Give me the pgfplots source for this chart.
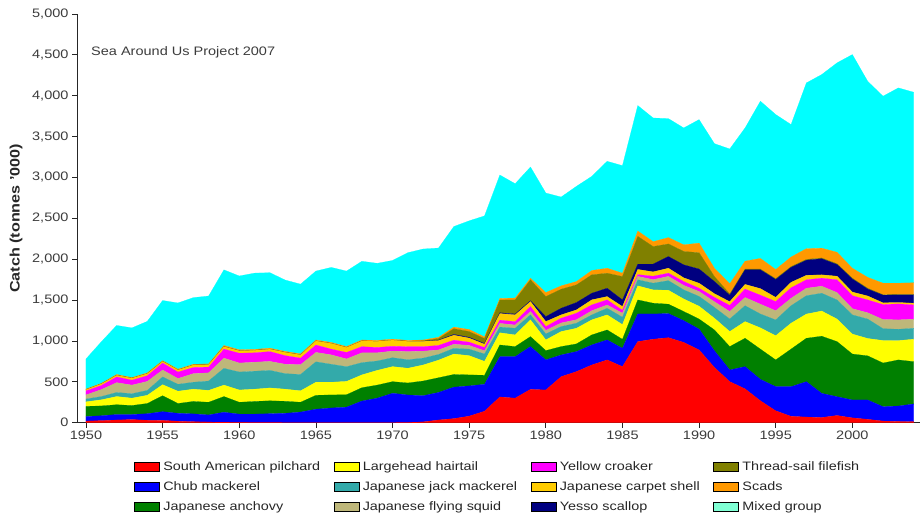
\documentclass[border=0pt]{standalone}
\usepackage{pgfplots}
\usepackage{pgfplotstable}
\pgfplotsset{compat=1.18}
\usepackage{fontspec}
\setmainfont{Liberation Sans}[FakeStretch=1.18]

\definecolor{cPil}{RGB}{255,0,0}
\definecolor{cChub}{RGB}{0,0,255}
\definecolor{cAnch}{RGB}{0,128,0}
\definecolor{cHair}{RGB}{255,255,0}
\definecolor{cJack}{RGB}{51,170,170}
\definecolor{cSquid}{RGB}{190,183,122}
\definecolor{cCroak}{RGB}{255,0,255}
\definecolor{cCarp}{RGB}{255,204,0}
\definecolor{cScal}{RGB}{0,0,128}
\definecolor{cFile}{RGB}{128,128,0}
\definecolor{cScad}{RGB}{255,153,0}
\definecolor{cMix}{RGB}{0,255,255}
\definecolor{cMixLeg}{RGB}{128,255,212}
\definecolor{txtgray}{RGB}{60,60,60}

% Catch by taxon, thousand tonnes
% R pilchard, B chub mackerel, G anchovy, Y hairtail, T jack mackerel,
% K flying squid, M yellow croaker, Gd carpet shell, N Yesso scallop,
% O thread-sail filefish, S scads, X mixed group
\pgfplotstableread{
year R B G Y T K M Gd N O S X
1950 20 55 125 55 35 50 50 15 0 0 7 368
1951 25 60 120 75 40 85 50 20 0 0 7 508
1952 33 67 120 100 50 120 70 20 0 0 10 600
1953 38 62 110 90 55 105 60 25 0 0 8 607
1954 30 80 125 100 60 110 70 25 0 0 10 630
1955 28 107 195 135 95 85 85 20 0 0 10 735
1956 18 97 120 150 85 70 80 25 0 0 10 810
1957 12 96 152 150 85 105 75 30 0 0 10 815
1958 8 87 155 145 115 100 70 30 0 0 10 830
1959 5 123 192 140 205 125 110 30 0 0 15 925
1960 3 102 145 150 220 110 120 30 0 0 12 903
1961 2 103 155 150 220 110 115 30 0 0 12 933
1962 2 108 158 157 215 110 120 30 0 0 12 923
1963 1 114 147 148 190 115 105 40 0 0 12 873
1964 1 129 120 140 200 120 80 40 0 0 12 853
1965 1 164 170 160 250 115 90 50 0 0 12 843
1966 1 179 160 155 220 115 70 70 0 0 12 918
1967 1 189 152 163 180 95 80 60 0 0 12 923
1968 1 264 163 157 150 120 75 70 0 0 12 963
1969 1 299 160 180 115 100 65 75 0 0 12 943
1970 1 359 142 184 109 81 59 75 0 0 12 963
1971 2 337 147 180 104 100 60 65 0 2 10 1073
1972 10 320 180 196 84 85 55 65 2 5 10 1113
1973 33 337 180 215 70 55 55 60 5 20 15 1092
1974 50 385 155 250 70 50 50 60 10 70 20 1230
1975 80 370 135 235 80 45 40 50 10 70 25 1330
1976 140 330 110 170 90 40 40 40 10 60 20 1480
1977 315 493 143 149 70 45 40 80 10 155 20 1510
1978 300 508 123 143 81 40 42 82 11 173 22 1399
1979 408 523 122 205 61 41 61 61 10 256 20 1360
1980 400 368 114 131 73 44 46 61 61 245 49 1218
1981 563 266 102 184 61 44 58 41 81 233 41 1087
1982 625 245 94 191 62 43 79 41 90 216 41 1165
1983 706 245 123 184 61 51 71 62 81 225 53 1152
1984 768 245 122 184 81 40 63 40 102 184 61 1308
1985 686 224 110 180 90 50 35 46 81 286 41 1316
1986 992 338 172 172 74 42 22 63 65 340 65 1535
1987 1021 309 132 163 82 43 42 53 95 215 60 1513
1988 1040 295 115 170 118 52 39 61 143 154 78 1455
1989 982 266 112 153 112 55 47 45 159 164 81 1430
1990 890 255 123 157 120 60 40 61 174 200 117 1511
1991 676 204 255 143 132 70 53 45 149 61 102 1524
1992 502 143 286 184 153 92 75 45 80 15 125 1649
1993 414 272 347 204 194 101 103 57 178 10 96 1630
1994 268 262 370 260 170 120 110 80 230 10 130 1923
1995 145 296 327 296 193 113 112 51 219 10 112 1896
1996 78 363 459 317 214 91 128 67 183 10 117 1620
1997 69 433 531 296 224 92 103 55 185 10 131 2028
1998 63 296 699 308 218 86 98 41 197 10 119 2124
1999 88 230 674 276 234 90 156 44 143 10 140 2317
2000 59 219 562 244 235 76 158 45 160 10 122 2614
2001 41 237 540 212 238 77 157 48 85 10 133 2399
2002 20 176 534 275 145 112 183 21 94 6 141 2287
2003 15 189 564 236 139 115 195 17 94 6 137 2389
2004 12 217 518 274 134 111 175 21 102 6 142 2331
}\catch

\begin{document}
\begin{tikzpicture}
\begin{axis}[
  name=ax,
  scale only axis,
  width=843bp, height=408.7bp,
  xmin=1949.413, xmax=2004.413,
  ymin=0, ymax=5000,
  stack plots=y,
  axis lines=left,
  axis line style={-, draw=black!85, line width=0.8bp},
  tick align=outside,
  major tick length=5bp,
  tick style={draw=black!85, line width=0.8bp},
  xtick={1950,1955,...,2000},
  ytick={0,500,...,5000},
  /pgf/number format/assume math mode=true,
  xticklabel style={/pgf/number format/.cd, 1000 sep={}},
  yticklabel style={/pgf/number format/.cd, 1000 sep={,}},
  ticklabel style={font=\fontsize{12.3bp}{14bp}\selectfont, text=txtgray},
  ylabel={Catch (tonnes '000)},
  ylabel style={at={(axis description cs:-0.0724,0.5)}, anchor=center,
    font=\bfseries\fontsize{13.7bp}{16bp}\selectfont, text=black!85},
  legend columns=3,
  transpose legend,
  legend cell align=left,
  legend image code/.code={\draw[#1, draw=black, line width=0.6bp] (0bp,-4.3bp) rectangle (25bp,4.3bp);},
  legend style={at={(axis description cs:0.5,-0.094)}, anchor=north,
    draw=none, fill=none, inner sep=0pt, outer sep=0pt,
    font=\fontsize{12.2bp}{14bp}\selectfont, text=black!85,
    nodes={inner xsep=3.5bp, inner ysep=0bp, text height=9bp, text depth=2.7bp},
    row sep=8.3bp,
    /tikz/every even column/.append style={column sep=10bp}},
]
\addplot[fill=cPil, draw=cPil, line width=0.2bp] table[x=year, y=R] {\catch} \closedcycle;
\addlegendentry{South American pilchard}
\addplot[fill=cChub, draw=cChub, line width=0.2bp] table[x=year, y=B] {\catch} \closedcycle;
\addlegendentry{Chub mackerel}
\addplot[fill=cAnch, draw=cAnch, line width=0.2bp] table[x=year, y=G] {\catch} \closedcycle;
\addlegendentry{Japanese anchovy}
\addplot[fill=cHair, draw=cHair, line width=0.2bp] table[x=year, y=Y] {\catch} \closedcycle;
\addlegendentry{Largehead hairtail}
\addplot[fill=cJack, draw=cJack, line width=0.2bp] table[x=year, y=T] {\catch} \closedcycle;
\addlegendentry{Japanese jack mackerel}
\addplot[fill=cSquid, draw=cSquid, line width=0.2bp] table[x=year, y=K] {\catch} \closedcycle;
\addlegendentry{Japanese flying squid}
\addplot[fill=cCroak, draw=cCroak, line width=0.2bp] table[x=year, y=M] {\catch} \closedcycle;
\addlegendentry{Yellow croaker}
\addplot[fill=cCarp, draw=cCarp, line width=0.2bp] table[x=year, y=Gd] {\catch} \closedcycle;
\addlegendentry{Japanese carpet shell}
\addplot[fill=cScal, draw=cScal, line width=0.2bp] table[x=year, y=N] {\catch} \closedcycle;
\addlegendentry{Yesso scallop}
\addplot[fill=cFile, draw=cFile, line width=0.2bp] table[x=year, y=O] {\catch} \closedcycle;
\addlegendentry{Thread-sail filefish}
\addplot[fill=cScad, draw=cScad, line width=0.2bp] table[x=year, y=S] {\catch} \closedcycle;
\addlegendentry{Scads}
\addplot[fill=cMix, draw=cMix, line width=0.2bp,
  legend image code/.code={\draw[fill=cMixLeg, draw=black, line width=0.6bp] (0bp,-4.3bp) rectangle (25bp,4.3bp);}]
  table[x=year, y=X] {\catch} \closedcycle;
\addlegendentry{Mixed group}
\node[anchor=west, inner sep=0pt, text=txtgray, font=\fontsize{12.3bp}{14bp}\selectfont]
  at (rel axis cs:0.0166,0.907) {Sea Around Us Project 2007};
\end{axis}
\pgfresetboundingbox
\path[use as bounding box] (ax.south west) ++(-77bp,-99.3bp) rectangle ++(921bp,522bp);
\end{tikzpicture}
\end{document}
